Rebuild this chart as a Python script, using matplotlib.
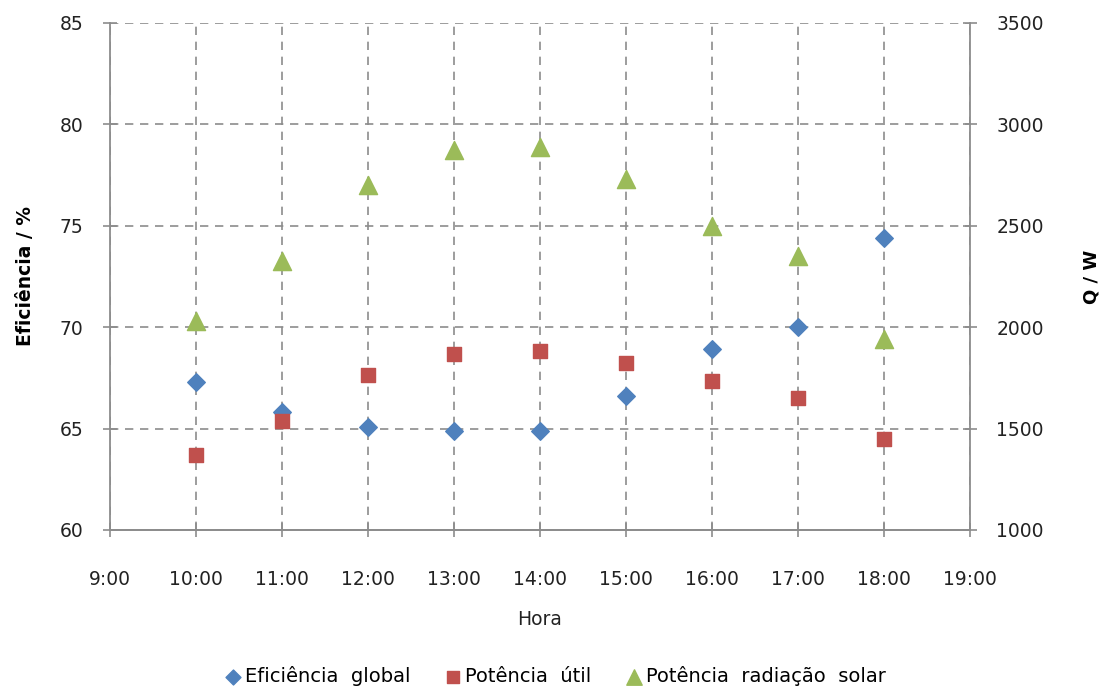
import matplotlib
matplotlib.use('Agg')
import matplotlib.pyplot as plt

# hourly measurements
hours = [10, 11, 12, 13, 14, 15, 16, 17, 18]
hour_ticks = [9, 10, 11, 12, 13, 14, 15, 16, 17, 18, 19]
hour_labels = ['9:00', '10:00', '11:00', '12:00', '13:00', '14:00',
               '15:00', '16:00', '17:00', '18:00', '19:00']

eficiencia_global = [67.3, 65.8, 65.1, 64.9, 64.9, 66.6, 68.9, 70.0, 74.4]
potencia_util = [1370, 1537, 1764, 1868, 1883, 1823, 1735, 1651, 1449]
potencia_radiacao = [2031, 2326, 2701, 2874, 2889, 2731, 2499, 2351, 1942]

BLUE = '#4F81BD'
RED = '#C0504D'
GREEN = '#9BBB59'
GRAY = '#8C8C8C'

plt.rcParams['font.family'] = 'DejaVu Sans'

fig = plt.figure(figsize=(11.07, 6.88), dpi=100)
ax = fig.add_axes([0.0994, 0.2297, 0.7768, 0.7369])
ax2 = ax.twinx()

p1 = ax.scatter(hours, eficiencia_global, marker='D', s=80, color=BLUE,
                zorder=3, label='Eficiência  global')
p2 = ax2.scatter(hours, potencia_util, marker='s', s=110, color=RED,
                 zorder=3, label='Potência  útil')
p3 = ax2.scatter(hours, potencia_radiacao, marker='^', s=170, color=GREEN,
                 zorder=3, label='Potência  radiação  solar')

ax.set_xlim(9, 19)
ax.set_ylim(60, 85)
ax.set_yticks([60, 65, 70, 75, 80, 85])
ax2.set_ylim(1000, 3500)
ax2.set_yticks([1000, 1500, 2000, 2500, 3000, 3500])
ax.set_xticks(hour_ticks)
ax.set_xticklabels(hour_labels)

ax.grid(True, color=GRAY, linestyle=(0, (5, 4)), linewidth=1.2)
ax.set_axisbelow(True)

for a in (ax, ax2):
    for side, sp in a.spines.items():
        if side == 'top':
            sp.set_visible(False)
        else:
            sp.set_color(GRAY)
            sp.set_linewidth(1.3)
    a.tick_params(axis='both', direction='inout', length=10, width=1.2,
                  color=GRAY, labelsize=13.5, labelcolor='#222222')
ax.tick_params(axis='x', pad=24)
ax.tick_params(axis='y', pad=14)
ax2.tick_params(axis='y', pad=14)
ax2.spines['left'].set_visible(False)
ax.spines['right'].set_visible(False)

ax.set_xlabel('Hora', fontsize=13.5, color='#222222', labelpad=15)
ax.set_ylabel('Eficiência / %', fontsize=13.5, fontweight='bold', labelpad=18)
ax2.set_ylabel('Q / W', fontsize=13, fontweight='bold', rotation=90, labelpad=28)

fig.legend(handles=[p1, p2, p3], loc='lower center', bbox_to_anchor=(0.5, -0.022),
           ncol=3, frameon=False, fontsize=14, handletextpad=0.0,
           columnspacing=1.6, markerscale=0.85, handlelength=1.2)

fig.savefig('out.png', dpi=100)
